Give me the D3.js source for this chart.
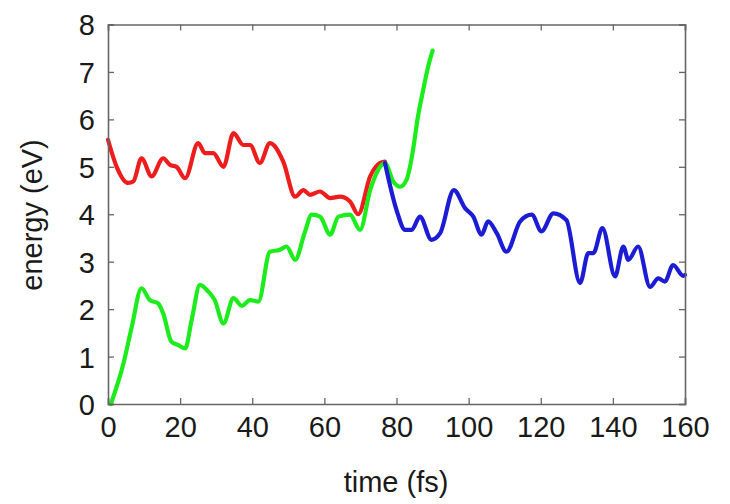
<!DOCTYPE html>
<html><head><meta charset="utf-8">
<script src="https://cdn.jsdelivr.net/npm/d3@7"></script>
<style>body{margin:0;background:#fff}svg{display:block}</style>
</head><body><svg id="c" width="730" height="504"></svg>
<script>
const xTicks = [0,20,40,60,80,100,120,140,160];
const yTicks = [0,1,2,3,4,5,6,7,8];
const redT = [0,2.4,5.6,7,9.3,12.1,15.3,17.2,19,21.4,25,26.9,29.2,32,34.8,37.5,39.4,42.1,44.9,48.6,51.9,54.2,56,58.8,61.6,64.3,67.1,69.4,72.7,75.4,76.8];
const redE = [5.57,5.0,4.66,4.69,5.18,4.8,5.18,5.04,5.0,4.76,5.5,5.29,5.29,5.0,5.71,5.46,5.46,5.08,5.5,5.11,4.37,4.51,4.41,4.48,4.34,4.37,4.27,4.0,4.8,5.08,5.11];
const greenT = [0.8,4.3,6.6,9.3,11.6,13.9,15.3,17.6,19.5,21.4,23.2,25.5,27.8,29.6,32,34.8,37.1,39.4,41.7,44.9,47.7,49.5,51.9,54.5,56.5,58.8,61.6,63.9,67.1,69.9,72.7,75.9,76.8,79.1,81,82.8,84.6,85.8,87.4,88.8,90];
const greenE = [0,0.86,1.63,2.44,2.19,2.12,1.91,1.31,1.24,1.17,1.77,2.51,2.37,2.19,1.70,2.23,2.07,2.19,2.16,3.21,3.25,3.32,3.04,3.6,3.99,3.95,3.57,3.95,3.99,3.67,4.51,5.04,5.08,4.69,4.58,4.73,5.36,5.99,6.62,7.12,7.45];
const blueT = [76.8,80,82.4,84.2,86.5,89.7,92.1,95.9,99,101.3,103.6,105.4,107.8,110.5,114.3,117.5,120.2,123.5,127.1,130.9,133.2,134.6,137.1,140.6,142.9,144.3,147,150.3,152.6,154.4,156.7,159.5,160];
const blueE = [5.08,4.09,3.67,3.67,3.95,3.46,3.6,4.51,4.13,3.95,3.57,3.85,3.6,3.21,3.85,3.99,3.64,4.02,3.88,2.55,3.18,3.18,3.71,2.69,3.32,3.04,3.32,2.47,2.65,2.58,2.93,2.70,2.72];

const svg = d3.select('#c');
const x = d3.scaleLinear().domain([0,160]).range([108,685]);
const y = d3.scaleLinear().domain([0,8]).range([404,24.5]);
const font = 'Liberation Sans, Arial, Helvetica, sans-serif';
const axisCol = '#666';

const line = d3.line().x(d=>x(d[0])).y(d=>y(d[1])).curve(d3.curveMonotoneX);
const series = [
  {t:redT, e:redE, c:'#ee1c1c'},
  {t:greenT, e:greenE, c:'#1cec1c'},
  {t:blueT, e:blueE, c:'#1c1cd4'}
];
series.forEach(s=>{
  svg.append('path').datum(s.t.map((t,i)=>[t,s.e[i]]))
    .attr('d', line).attr('fill','none').attr('stroke', s.c)
    .attr('stroke-width', 4.2).attr('stroke-linejoin','round').attr('stroke-linecap','round');
});

const gB = svg.append('g').attr('transform','translate(0,404)')
  .call(d3.axisBottom(x).tickValues(xTicks).tickSize(-6).tickPadding(12).tickFormat(d3.format('d')));
const gT = svg.append('g').attr('transform','translate(0,24.5)')
  .call(d3.axisTop(x).tickValues(xTicks).tickSize(-6).tickFormat(''));
const gL = svg.append('g').attr('transform','translate(108,0)')
  .call(d3.axisLeft(y).tickValues(yTicks).tickSize(-6).tickPadding(13).tickFormat(d3.format('d')));
const gR = svg.append('g').attr('transform','translate(685,0)')
  .call(d3.axisRight(y).tickValues(yTicks).tickSize(-6).tickFormat(''));
[gB,gT,gL,gR].forEach(g=>{
  g.select('.domain').attr('stroke',axisCol).attr('stroke-width',1.6);
  g.selectAll('.tick line').attr('stroke',axisCol).attr('stroke-width',1.3);
  g.selectAll('text').attr('font-family',font).attr('font-size',29).attr('fill','#1a1a1a');
});
gB.selectAll('.tick text').attr('dy','0.71em');
gL.selectAll('.tick text').attr('dy','0.36em');

svg.append('text').attr('x',396).attr('y',492).attr('text-anchor','middle')
  .attr('font-family',font).attr('font-size',29).attr('fill','#1a1a1a').text('time (fs)');
svg.append('text').attr('transform','translate(42,215) rotate(-90)').attr('text-anchor','middle')
  .attr('font-family',font).attr('font-size',29).attr('fill','#1a1a1a').text('energy (eV)');
</script></body></html>
